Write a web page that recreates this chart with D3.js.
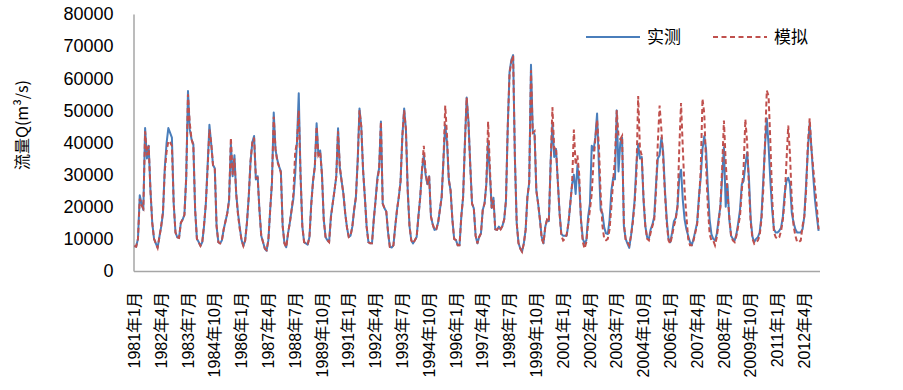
<!DOCTYPE html>
<html>
<head>
<meta charset="utf-8">
<script src="https://cdn.jsdelivr.net/npm/d3@7"></script>
<style>
  body { margin: 0; background: #fff; }
</style>
</head>
<body>
<div class="chart"></div>
<script>
// monthly flow, 1981-01 .. 2012-12
var observed = [
  7800, 7600, 10000, 23600, 21000, 19000, 44500, 35000, 39000, 25000, 15000, 10000,
  8600, 7200, 10600, 13800, 18000, 32000, 39700, 44500, 43000, 41500, 21000, 12000,
  10500, 10300, 15000, 16000, 17500, 29000, 56000, 44000, 41000, 39500, 19000, 10000,
  9000, 7800, 9000, 14000, 21000, 33000, 45500, 39500, 33000, 32000, 14000, 9000,
  8600, 9600, 13000, 15500, 18000, 22000, 39500, 29500, 36000, 24000, 18000, 13500,
  9600, 7800, 9500, 15000, 23000, 34000, 40000, 42000, 28500, 29500, 19000, 11000,
  9000, 7000, 6300, 9600, 19000, 27500, 49300, 37700, 34600, 32500, 31000, 14000,
  8600, 7400, 11700, 15000, 19000, 22500, 30000, 40000, 55300, 30000, 14000, 9000,
  8600, 8200, 10600, 21000, 28000, 32500, 46000, 36000, 37500, 30000, 16000, 10600,
  9600, 9000, 17000, 21000, 25000, 29400, 44400, 32000, 28000, 24000, 18000, 13500,
  10600, 11000, 13800, 19000, 23000, 34600, 50600, 44900, 31500, 23000, 13800, 9000,
  8600, 8600, 16000, 22000, 29000, 32000, 46500, 21000, 19500, 18500, 12000, 7500,
  7300, 8000, 13800, 19000, 23000, 28000, 42000, 50600, 44000, 25000, 14000, 9500,
  8600, 9600, 10600, 17000, 23000, 31500, 36000, 30000, 27000, 29500, 17000, 14500,
  12800, 13000, 15000, 19000, 23000, 34600, 45500, 40000, 28400, 25000, 16000, 10000,
  9600, 8000, 8000, 17000, 23000, 39700, 54000, 46600, 33000, 21000, 19500, 11000,
  8600, 10600, 11700, 19000, 21000, 27000, 40500, 30000, 19600, 22800, 13000, 12800,
  13800, 13000, 14000, 16000, 22000, 45000, 62000, 65700, 67200, 35000, 15000, 8700,
  7000, 6000, 8600, 12800, 23000, 27500, 64200, 43500, 42500, 25000, 21000, 16000,
  10600, 8600, 13800, 16000, 15500, 34000, 46000, 35500, 38000, 28000, 18000, 11500,
  11000, 11000, 11000, 15000, 21000, 27000, 30000, 24000, 33000, 27000, 16000, 10000,
  8600, 9600, 17000, 21000, 39000, 37500, 41500, 49000, 33000, 19000, 18000, 13500,
  11700, 11500, 16000, 25000, 29000, 28500, 50000, 31000, 40000, 41500, 14000, 10000,
  8500, 7200, 11000, 16000, 22000, 33000, 39500, 35000, 35500, 22000, 14000, 10500,
  10000, 13000, 14500, 17000, 27000, 35000, 36000, 41500, 37000, 25000, 16000, 10000,
  9000, 12000, 15500, 16500, 20000, 29000, 31500, 22000, 16000, 13000, 11000, 9000,
  8000, 10000, 12500, 15000, 23000, 29000, 38000, 42000, 38000, 26000, 16000, 11500,
  10000, 9500, 11500, 16000, 20000, 29000, 38500, 20000, 27000, 16000, 11000, 10000,
  9500, 11500, 15000, 19000, 27000, 28000, 33000, 37000, 29000, 16000, 10600, 9000,
  10000, 10500, 12000, 17000, 28000, 39000, 47500, 39000, 28000, 19000, 13000, 12000,
  12000, 12500, 13500, 17000, 24000, 28000, 29000, 27000, 18000, 15000, 13000, 12000,
  12000, 12000, 13000, 17000, 27000, 37700, 46000, 38000, 29400, 22000, 17000, 12500
];

var simulated = [
  7800, 7600, 10000, 22500, 20500, 19500, 43500, 36000, 39000, 25000, 15000, 10000,
  8600, 7200, 10600, 14000, 18500, 31000, 37000, 40500, 40000, 39000, 21000, 12000,
  10500, 10300, 15000, 16000, 17500, 29000, 55000, 46000, 41000, 39000, 19000, 10000,
  9000, 7800, 9000, 14500, 21000, 32000, 44000, 40000, 33000, 32000, 14000, 9000,
  8600, 9600, 13000, 15500, 18000, 22000, 41500, 30000, 35000, 24000, 17500, 13000,
  9600, 7800, 9500, 15000, 23000, 34000, 40000, 41500, 29000, 29000, 19000, 11000,
  9000, 7000, 6500, 9600, 19000, 27500, 48000, 38000, 34000, 32500, 30500, 14000,
  8600, 7400, 11700, 15000, 19000, 24000, 37000, 40000, 50000, 30000, 14000, 9000,
  8600, 8200, 10600, 20500, 28000, 32500, 45000, 36000, 37000, 30000, 16000, 10600,
  9600, 9000, 16500, 21000, 25000, 29400, 43500, 32500, 28000, 24000, 18000, 13500,
  10600, 11000, 13800, 19000, 23000, 34000, 50000, 45000, 31500, 23000, 13800, 9000,
  8600, 8600, 16000, 22000, 28000, 32000, 46500, 21000, 19500, 18500, 12000, 7500,
  7300, 8000, 13800, 19000, 23000, 28000, 42000, 50000, 44000, 25000, 14000, 9500,
  8600, 9600, 10600, 17000, 23000, 31500, 39000, 31000, 27000, 29500, 17000, 14500,
  12800, 13000, 15000, 19000, 23000, 34600, 51500, 42000, 28400, 25000, 16000, 10000,
  9600, 8000, 8000, 17000, 23000, 39700, 54000, 46000, 33000, 21000, 19500, 11000,
  8600, 10600, 11700, 19000, 21000, 27000, 46500, 32000, 19600, 22000, 13000, 12800,
  13800, 13000, 14000, 16000, 22000, 45000, 61500, 65000, 67000, 35000, 15000, 8700,
  7000, 6000, 8600, 12800, 23000, 27500, 62500, 43000, 43500, 25000, 21000, 16000,
  10000, 8600, 13800, 16000, 15500, 33000, 51000, 38000, 38500, 28000, 18000, 11000,
  9500, 10000, 11500, 15000, 21000, 27000, 44000, 33000, 36000, 30000, 15500, 9000,
  7000, 9000, 15000, 19000, 24000, 34000, 41000, 47000, 39000, 24000, 14000, 10000,
  9600, 10000, 13000, 20000, 28000, 35000, 50000, 42000, 41000, 42000, 15000, 9500,
  9000, 8000, 11000, 15000, 21000, 30000, 54500, 38000, 36000, 23000, 14000, 10000,
  9500, 12000, 14000, 16000, 25000, 40000, 51500, 44000, 35000, 24000, 15000, 9500,
  8500, 11000, 14000, 16000, 20000, 38000, 52300, 38000, 25000, 17000, 10000, 8000,
  8000, 9500, 12000, 14500, 22000, 31000, 53600, 49000, 33000, 20000, 11500, 9500,
  9500, 8000, 10500, 15000, 20000, 32000, 46800, 34000, 24000, 17000, 11000, 9500,
  9000, 11000, 14000, 17000, 25000, 32000, 47200, 40000, 26000, 15000, 10000, 8500,
  9000, 9500, 11000, 16000, 25000, 40000, 56200, 54500, 40000, 23000, 12000, 10500,
  10000, 10500, 12500, 16000, 22000, 34000, 45300, 36000, 22000, 14000, 11000, 9000,
  9000, 9500, 14000, 17000, 25000, 39700, 47500, 38000, 32000, 26000, 20000, 13000
];

var yTicks = [0, 10000, 20000, 30000, 40000, 50000, 60000, 70000, 80000];
var tickLabels = ["1981年1月", "1982年4月", "1983年7月", "1984年10月", "1986年1月",
  "1987年4月", "1988年7月", "1989年10月", "1991年1月", "1992年4月", "1993年7月",
  "1994年10月", "1996年1月", "1997年4月", "1998年7月", "1999年10月", "2001年1月",
  "2002年4月", "2003年7月", "2004年10月", "2006年1月", "2007年4月", "2008年7月",
  "2009年10月", "2011年1月", "2012年4月"];
var seriesNames = ["实测", "模拟"];

var months = [];
for (var yr = 1981; yr <= 2012; yr++) {
  for (var mo = 1; mo <= 12; mo++) months.push(yr + "年" + mo + "月");
}

var svgWidth = 903, svgHeight = 390;
var plotLeft = 133.5, plotRight = 819.5, plotTop = 14, plotBottom = 271;
var axisColor = "#a6a6a6";
var blue = "#4a7ebb", red = "#c0504d";

var svg = d3.select(".chart").append("svg")
  .attr("width", svgWidth)
  .attr("height", svgHeight)
  .style("font-family", "'Liberation Sans', Arial, 'Noto Sans CJK SC', sans-serif");

var x = d3.scaleBand().domain(months).range([plotLeft, plotRight]);
var y = d3.scaleLinear().domain([0, 80000]).range([plotBottom, plotTop]);
var bw = x.bandwidth();

// y axis
var gy = svg.append("g")
  .attr("transform", `translate(${plotLeft},0)`)
  .call(d3.axisLeft(y).tickValues(yTicks).tickSize(0).tickPadding(20).tickFormat(d3.format("d")));
gy.select(".domain").attr("stroke", axisColor).attr("stroke-width", 1.5);
gy.selectAll("text").attr("font-size", 18).attr("fill", "#000")
  .attr("font-family", "'Liberation Sans', Arial, sans-serif");

// x axis
var gx = svg.append("g")
  .attr("transform", `translate(0,${plotBottom})`)
  .call(d3.axisBottom(x).tickValues(tickLabels).tickSize(0).tickSizeOuter(0));
gx.select(".domain").attr("stroke", axisColor).attr("stroke-width", 1.5);
gx.selectAll("text")
  .attr("font-size", 16)
  .attr("fill", "#000")
  .attr("font-family", "'Liberation Sans', 'Noto Sans CJK SC', sans-serif")
  .attr("text-anchor", "end")
  .attr("transform", "rotate(-90)")
  .attr("x", -21)
  .attr("y", 0)
  .attr("dy", "0.35em");

// y axis title
svg.append("text")
  .attr("transform", "translate(22,125) rotate(-90)")
  .attr("text-anchor", "middle")
  .attr("dy", "0.35em")
  .attr("font-size", 16)
  .attr("font-family", "'Noto Sans CJK SC', 'Liberation Sans', sans-serif")
  .text("流量Q(m³/s)");

var line = d3.line()
  .x((d, i) => x(months[i]) + bw / 2)
  .y(d => y(d));

svg.append("path")
  .datum(observed)
  .attr("fill", "none")
  .attr("stroke", blue)
  .attr("stroke-width", 2)
  .attr("stroke-linejoin", "round")
  .attr("d", line);

svg.append("path")
  .datum(simulated)
  .attr("fill", "none")
  .attr("stroke", red)
  .attr("stroke-width", 2)
  .attr("stroke-dasharray", "5,3")
  .attr("d", line);

// legend
var legend = [
  { name: seriesNames[0], color: blue, dash: null, x0: 586 },
  { name: seriesNames[1], color: red, dash: "5,3.5", x0: 713 }
];
var lg = svg.selectAll(".legend").data(legend).enter().append("g").attr("class", "legend");
lg.append("line")
  .attr("x1", d => d.x0).attr("x2", d => d.x0 + 54)
  .attr("y1", 37).attr("y2", 37)
  .attr("stroke", d => d.color)
  .attr("stroke-width", 2)
  .attr("stroke-dasharray", d => d.dash);
lg.append("text")
  .attr("x", d => d.x0 + 61)
  .attr("y", 37)
  .attr("dy", "0.35em")
  .attr("font-size", 17)
  .attr("font-family", "'Noto Sans CJK SC', sans-serif")
  .text(d => d.name);
</script>
</body>
</html>
